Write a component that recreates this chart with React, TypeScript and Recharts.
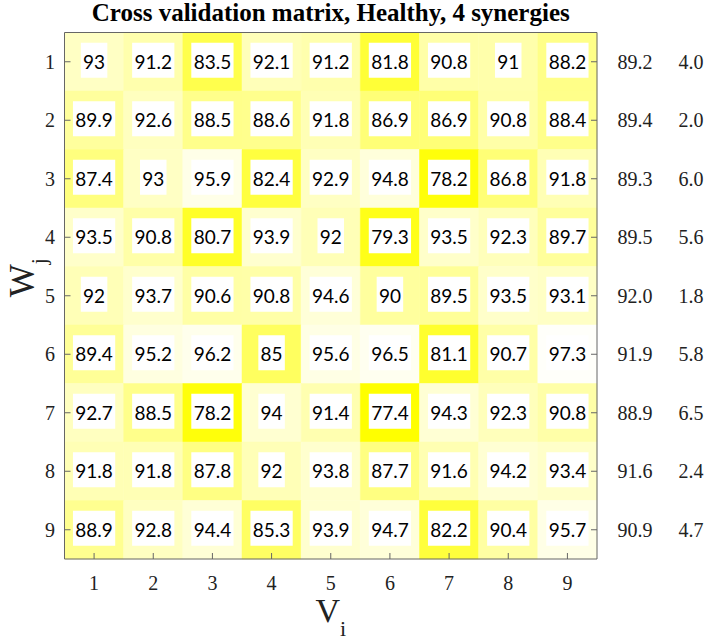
import React from 'react';
import { ScatterChart, Scatter, XAxis, YAxis, ReferenceArea } from 'recharts';

const TITLE = 'Cross validation matrix, Healthy, 4 synergies';
const vTicks = [1, 2, 3, 4, 5, 6, 7, 8, 9];
const wTicks = [1, 2, 3, 4, 5, 6, 7, 8, 9];

const W1 = [93, 91.2, 83.5, 92.1, 91.2, 81.8, 90.8, 91, 88.2];
const W2 = [89.9, 92.6, 88.5, 88.6, 91.8, 86.9, 86.9, 90.8, 88.4];
const W3 = [87.4, 93, 95.9, 82.4, 92.9, 94.8, 78.2, 86.8, 91.8];
const W4 = [93.5, 90.8, 80.7, 93.9, 92, 79.3, 93.5, 92.3, 89.7];
const W5 = [92, 93.7, 90.6, 90.8, 94.6, 90, 89.5, 93.5, 93.1];
const W6 = [89.4, 95.2, 96.2, 85, 95.6, 96.5, 81.1, 90.7, 97.3];
const W7 = [92.7, 88.5, 78.2, 94, 91.4, 77.4, 94.3, 92.3, 90.8];
const W8 = [91.8, 91.8, 87.8, 92, 93.8, 87.7, 91.6, 94.2, 93.4];
const W9 = [88.9, 92.8, 94.4, 85.3, 93.9, 94.7, 82.2, 90.4, 95.7];
const matrix = [W1, W2, W3, W4, W5, W6, W7, W8, W9];

const rowMeans = [89.2, 89.4, 89.3, 89.5, 92.0, 91.9, 88.9, 91.6, 90.9];
const rowStds = [4.0, 2.0, 6.0, 5.6, 1.8, 5.8, 6.5, 2.4, 4.7];

const cellData = matrix.flatMap((row, r) =>
  row.map((v, c) => ({ x: vTicks[c], y: wTicks[r], v }))
);
const allVals = cellData.map((d) => d.v);
const vMin = Math.min(...allVals);
const vMax = Math.max(...allVals);

const colorFor = (v: number) => {
  const t = (v - vMin) / (vMax - vMin);
  const b = Math.round(250 * t);
  return `rgb(255,255,${b})`;
};

const AXIS_COLOR = '#666';
const SERIF = '"Liberation Serif", "Times New Roman", serif';
const SANS = 'Lato, "Noto Sans", sans-serif';

const CellLabel = (props: any) => {
  const { cx, cy, payload } = props;
  const s = String(payload.v);
  const digits = s.replace('.', '').length;
  const dots = s.length - digits;
  const w = digits * 11 + dots * 4.75 + 4.5;
  return (
    <g>
      <rect x={cx - w / 2} y={cy - 19} width={w} height={35} fill="#ffffff" />
      <text x={cx} y={cy + 7} textAnchor="middle" fontFamily={SANS} fontSize={19} fill="#000">
        {s}
      </text>
    </g>
  );
};

const BottomTick = (props: any) => {
  const { x, y, payload } = props;
  return (
    <g>
      <line x1={x} y1={y} x2={x} y2={y - 6} stroke={AXIS_COLOR} />
      <text x={x} y={y + 31} textAnchor="middle" fontFamily={SERIF} fontSize={20} fill="#222">
        {payload.value}
      </text>
    </g>
  );
};

const TopTick = (props: any) => {
  const { x, y } = props;
  return <line x1={x} y1={y} x2={x} y2={y + 6} stroke={AXIS_COLOR} />;
};

const LeftTick = (props: any) => {
  const { x, y, payload } = props;
  return (
    <g>
      <line x1={x} y1={y} x2={x + 6} y2={y} stroke={AXIS_COLOR} />
      <text x={x - 9.5} y={y + 7} textAnchor="end" fontFamily={SERIF} fontSize={20} fill="#222">
        {payload.value}
      </text>
    </g>
  );
};

const RightTick = (props: any) => {
  const { x, y, index } = props;
  return (
    <g>
      <line x1={x} y1={y} x2={x - 6} y2={y} stroke={AXIS_COLOR} />
      <text x={x + 38} y={y + 7} textAnchor="middle" fontFamily={SERIF} fontSize={20} fill="#222">
        {rowMeans[index].toFixed(1)}
      </text>
      <text x={x + 94} y={y + 7} textAnchor="middle" fontFamily={SERIF} fontSize={20} fill="#222">
        {rowStds[index].toFixed(1)}
      </text>
    </g>
  );
};

const TitleLabel = (props: any) => {
  const { viewBox } = props;
  const cx = viewBox.x + viewBox.width / 2;
  return (
    <text
      x={cx}
      y={viewBox.y + viewBox.height - 11.5}
      textAnchor="middle"
      fontFamily={SERIF}
      fontWeight="bold"
      fontSize={25}
      fill="#000"
    >
      {TITLE}
    </text>
  );
};

const XLabel = (props: any) => {
  const { viewBox } = props;
  const cx = viewBox.x + viewBox.width / 2;
  return (
    <text x={cx} y={viewBox.y + 63} textAnchor="middle" fontFamily={SERIF} fontSize={34} fill="#222">
      V
      <tspan fontSize={22} dy={14}>i</tspan>
    </text>
  );
};

const YLabel = (props: any) => {
  const { viewBox } = props;
  const cy = viewBox.y + viewBox.height / 2 - 18;
  return (
    <text
      transform={`translate(34, ${cy}) rotate(-90)`}
      x={0}
      y={0}
      textAnchor="middle"
      fontFamily={SERIF}
      fontSize={35}
      fill="#222"
    >
      W
      <tspan fontSize={22} dy={12}>j</tspan>
    </text>
  );
};

export default function App() {
  return (
    <div>
      <style>{'body{margin:0}'}</style>
      <ScatterChart width={709} height={642} margin={{ top: 0, right: 0, bottom: 0, left: 0 }}>
        {cellData.map((d) => (
          <ReferenceArea
            key={`a-${d.x}-${d.y}`}
            xAxisId="b"
            yAxisId="l"
            x1={d.x - 0.5}
            x2={d.x + 0.5}
            y1={d.y - 0.5}
            y2={d.y + 0.5}
            fill={colorFor(d.v)}
            fillOpacity={1}
            stroke={colorFor(d.v)}
            strokeWidth={0.5}
            ifOverflow="visible"
          />
        ))}
        <XAxis
          xAxisId="b"
          type="number"
          dataKey="x"
          orientation="bottom"
          domain={[0.5, 9.5]}
          ticks={vTicks}
          height={83}
          tickSize={0}
          tickMargin={0}
          tickLine={false}
          axisLine={{ stroke: AXIS_COLOR }}
          tick={<BottomTick />}
          allowDataOverflow
          interval={0}
          label={<XLabel />}
        />
        <XAxis
          xAxisId="t"
          type="number"
          orientation="top"
          domain={[0.5, 9.5]}
          ticks={vTicks}
          height={32.5}
          tickSize={0}
          tickMargin={0}
          tickLine={false}
          axisLine={{ stroke: AXIS_COLOR }}
          tick={<TopTick />}
          allowDataOverflow
          interval={0}
          label={<TitleLabel />}
        />
        <YAxis
          yAxisId="l"
          type="number"
          dataKey="y"
          orientation="left"
          reversed
          domain={[0.5, 9.5]}
          ticks={wTicks}
          width={64.5}
          tickSize={0}
          tickMargin={0}
          tickLine={false}
          axisLine={{ stroke: AXIS_COLOR }}
          tick={<LeftTick />}
          allowDataOverflow
          interval={0}
          label={<YLabel />}
        />
        <YAxis
          yAxisId="r"
          type="number"
          orientation="right"
          reversed
          domain={[0.5, 9.5]}
          ticks={wTicks}
          width={112}
          tickSize={0}
          tickMargin={0}
          tickLine={false}
          axisLine={{ stroke: AXIS_COLOR }}
          tick={<RightTick />}
          allowDataOverflow
          interval={0}
        />
        <Scatter
          xAxisId="b"
          yAxisId="l"
          data={cellData}
          dataKey="y"
          shape={<CellLabel />}
          isAnimationActive={false}
        />
      </ScatterChart>
    </div>
  );
}
